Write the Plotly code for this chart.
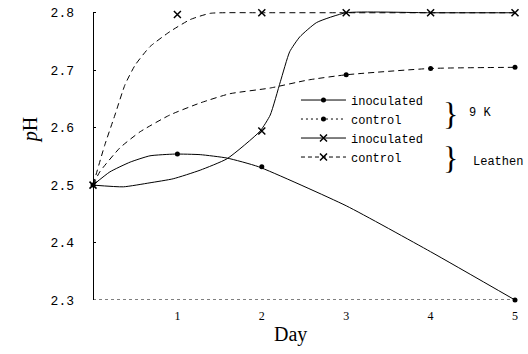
import plotly.graph_objects as go

# ---- data ----
# 9 K inoculated (solid line, dot markers)
k9_inoc_curve_day = [0, 0.2, 0.44, 0.675, 0.97, 1.27, 1.59, 1.96, 3, 4, 5]
k9_inoc_curve_ph = [2.50, 2.523, 2.54, 2.551, 2.554, 2.553, 2.547, 2.532, 2.464, 2.384, 2.30]
k9_inoc_mark_day = [0, 1, 2, 5]
k9_inoc_mark_ph = [2.50, 2.554, 2.532, 2.30]

# 9 K control (dashed line, dot markers)
k9_ctrl_curve_day = [0, 0.08, 0.32, 0.56, 0.91, 1.27, 1.62, 2.1, 2.55, 3, 4, 5]
k9_ctrl_curve_ph = [2.50, 2.523, 2.565, 2.593, 2.622, 2.643, 2.659, 2.669, 2.683, 2.692, 2.703, 2.705]
k9_ctrl_mark_day = [3, 4, 5]
k9_ctrl_mark_ph = [2.692, 2.703, 2.705]

# Leathen inoculated (solid line, x markers)
le_inoc_curve_day = [0, 0.36, 0.675, 0.95, 1.27, 1.59, 1.98, 2.1, 2.22, 2.33, 2.45, 2.65, 3, 4, 5]
le_inoc_curve_ph = [2.50, 2.497, 2.504, 2.511, 2.526, 2.546, 2.594, 2.622, 2.68, 2.732, 2.758, 2.783, 2.80, 2.80, 2.80]
le_inoc_mark_day = [0, 2, 3, 4, 5]
le_inoc_mark_ph = [2.50, 2.594, 2.80, 2.80, 2.80]

# Leathen control (dashed line, x markers)
le_ctrl_curve_day = [0, 0.14, 0.26, 0.38, 0.5, 0.675, 0.91, 1.15, 1.39, 2, 3, 4, 5]
le_ctrl_curve_ph = [2.50, 2.57, 2.622, 2.675, 2.709, 2.741, 2.767, 2.788, 2.799, 2.80, 2.80, 2.80, 2.80]
le_ctrl_mark_day = [1, 2]
le_ctrl_mark_ph = [2.797, 2.80]

y_ticks = [2.3, 2.4, 2.5, 2.6, 2.7, 2.8]
x_ticks = [1, 2, 3, 4, 5]
legend_names = ["inoculated", "control", "inoculated", "control"]

mono = "Liberation Mono, Courier New, monospace"
serif = "Liberation Serif, Times New Roman, serif"

DOT = dict(symbol="circle", size=5, color="black")
XM = dict(symbol="x-thin", size=7, color="black", line=dict(width=1.5, color="black"))
SOLID = dict(color="black", width=1, shape="spline", smoothing=0.5)
DASHED = dict(color="black", width=1, dash="6px,4px", shape="spline", smoothing=0.5)

fig = go.Figure()

def add_series(cx, cy, mx, my, line, marker):
    fig.add_trace(go.Scatter(x=cx, y=cy, mode="lines", line=line, showlegend=False,
                             hoverinfo="skip"))
    fig.add_trace(go.Scatter(x=mx, y=my, mode="markers", marker=marker, showlegend=False,
                             cliponaxis=False))

add_series(k9_inoc_curve_day, k9_inoc_curve_ph, k9_inoc_mark_day, k9_inoc_mark_ph, SOLID, DOT)
add_series(k9_ctrl_curve_day, k9_ctrl_curve_ph, k9_ctrl_mark_day, k9_ctrl_mark_ph, DASHED, DOT)
add_series(le_inoc_curve_day, le_inoc_curve_ph, le_inoc_mark_day, le_inoc_mark_ph, SOLID, XM)
add_series(le_ctrl_curve_day, le_ctrl_curve_ph, le_ctrl_mark_day, le_ctrl_mark_ph, DASHED, XM)

# legend entries
leg_styles = [
    (dict(color="black", width=1), DOT),
    (dict(color="black", width=1, dash="2px,3px"), DOT),
    (dict(color="black", width=1), XM),
    (dict(color="black", width=1, dash="4px,3px"), XM),
]
for name, (ln, mk) in zip(legend_names, leg_styles):
    fig.add_trace(go.Scatter(x=[None], y=[None], mode="lines+markers", name=name,
                             line=ln, marker=mk, showlegend=True))

fig.update_layout(
    width=528, height=354,
    margin=dict(l=93, r=13, t=7, b=54),
    paper_bgcolor="white", plot_bgcolor="white",
    showlegend=True,
    legend=dict(x=0.481, y=0.732, xanchor="left", yanchor="top",
                font=dict(family=mono, size=12, color="black"),
                bgcolor="rgba(0,0,0,0)", tracegroupgap=0, itemwidth=45),
    xaxis=dict(range=[0, 5], tickvals=x_ticks, ticktext=[str(v) for v in x_ticks],
               showgrid=False, zeroline=False, showline=False,
               ticks="", ticklabelstandoff=7,
               tickfont=dict(family=serif, size=12, color="black")),
    yaxis=dict(range=[2.3, 2.81], tickvals=y_ticks, ticktext=[f"{v:.1f}" for v in y_ticks],
               showgrid=False, zeroline=False, showline=False,
               ticks="inside", ticklen=3, tickcolor="black",
               ticklabelstandoff=18,
               tickfont=dict(family=mono, size=13, color="black")),
)

# y axis line (ends at 2.8) and dotted baseline at 2.3
fig.add_shape(type="line", xref="x", yref="y", x0=0, x1=0, y0=2.3, y1=2.8,
              line=dict(color="black", width=2))
fig.add_shape(type="line", xref="x", yref="y", x0=0, x1=5, y0=2.3, y1=2.3,
              line=dict(color="black", width=1.2, dash="dot"))

def note(x, y, text, font, angle=0):
    fig.add_annotation(x=x, y=y, xref="paper", yref="paper", text=text, textangle=angle,
                       xanchor="center", yanchor="middle", showarrow=False, font=font)

# axis titles
note(-0.149, 0.58, "<i>p</i>H", dict(family=serif, size=20, color="black"), angle=-90)
note(0.467, -0.119, "Day", dict(family=serif, size=20, color="black"))

# braces and medium labels
note(0.846, 0.635, "}", dict(family=serif, size=32, color="black"))
note(0.917, 0.638, "9 K", dict(family=mono, size=12, color="black"))
note(0.846, 0.485, "}", dict(family=serif, size=32, color="black"))
note(0.96, 0.471, "Leathen", dict(family=mono, size=12, color="black"))

fig.write_html("out.html")
